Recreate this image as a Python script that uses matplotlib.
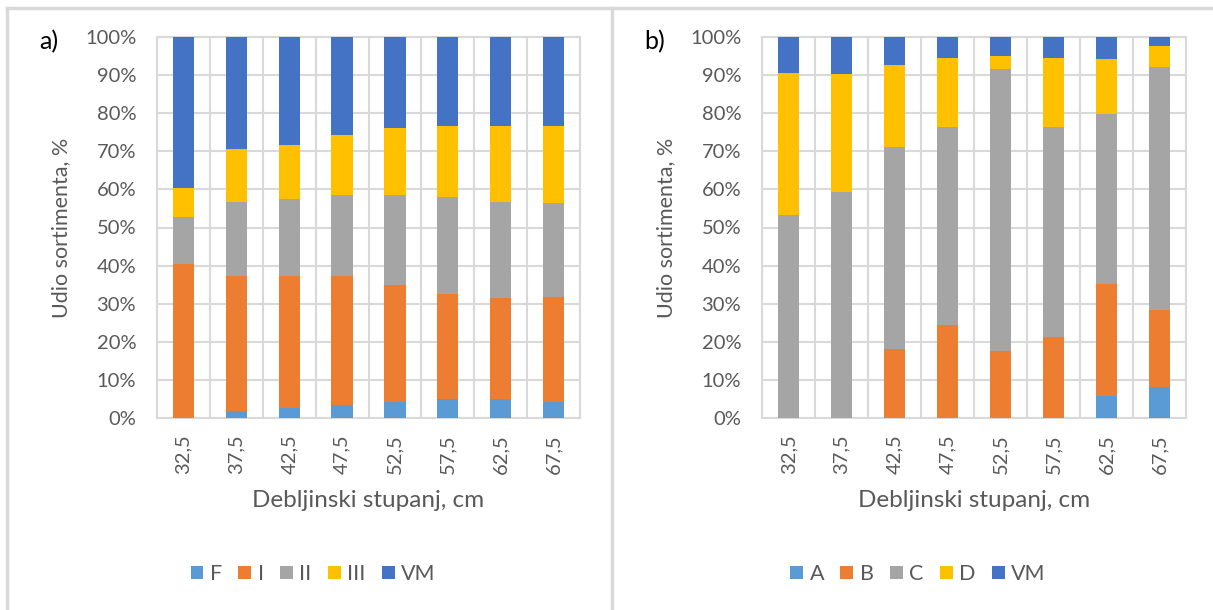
import numpy as np
import matplotlib
matplotlib.use("Agg")
import matplotlib.pyplot as plt
from matplotlib.ticker import PercentFormatter, FixedLocator
from matplotlib.lines import Line2D

plt.rcParams['font.family'] = ['Lato', 'DejaVu Sans']

# diameter classes
classes = ["32,5", "37,5", "42,5", "47,5", "52,5", "57,5", "62,5", "67,5"]

# a) assortment shares, %
a_labels = ["F", "I", "II", "III", "VM"]
a_F = [0.0, 1.9, 2.6, 3.3, 4.3, 5.0, 5.0, 4.3]
a_I = [40.5, 35.5, 34.8, 33.9, 30.5, 27.5, 26.5, 27.5]
a_II = [12.3, 19.2, 20.2, 21.4, 23.6, 25.4, 25.1, 24.5]
a_III = [7.5, 14.1, 14.1, 15.8, 17.7, 18.8, 20.1, 20.4]
a_VM = [39.7, 29.3, 28.3, 25.6, 23.9, 23.3, 23.3, 23.3]

# b) assortment shares, %
b_labels = ["A", "B", "C", "D", "VM"]
b_A = [0.0, 0.0, 0.0, 0.0, 0.0, 0.0, 5.9, 8.1]
b_B = [0.0, 0.0, 18.2, 24.3, 17.6, 21.3, 29.4, 20.2]
b_C = [53.4, 59.4, 52.9, 52.2, 74.0, 55.2, 44.5, 63.9]
b_D = [37.2, 30.8, 21.5, 18.1, 3.3, 18.1, 14.4, 5.4]
b_VM = [9.4, 9.8, 7.4, 5.4, 5.1, 5.4, 5.8, 2.4]

colors = ["#5B9BD5", "#ED7D31", "#A5A5A5", "#FFC000", "#4472C4"]
grid_c = "#D9D9D9"
text_c = "#595959"

fig = plt.figure(figsize=(12.13, 6.10), dpi=100)

# panel frames
fig.add_artist(Line2D([7/1213, 1], [1-8/610, 1-8/610], color=grid_c, lw=2.5))
fig.add_artist(Line2D([7/1213, 7/1213], [0, 1-8/610], color=grid_c, lw=2.5))
fig.add_artist(Line2D([612/1213, 612/1213], [0, 1-8/610], color=grid_c, lw=2.5))


def draw_panel(ax, series, labels, tag, tag_x, legend_x):
    x = np.arange(len(classes))
    bottom = np.zeros(len(classes))
    handles = []
    for vals, lab, col in zip(series, labels, colors):
        vals = np.array(vals) / 100.0
        h = ax.bar(x, vals, width=0.4, bottom=bottom, color=col, label=lab, zorder=3)
        handles.append(h)
        bottom += vals
    ax.set_xlim(-0.5, len(classes) - 0.5)
    ax.set_ylim(0, 1)
    ax.yaxis.set_major_locator(FixedLocator(np.linspace(0, 1, 11)))
    ax.yaxis.set_major_formatter(PercentFormatter(1.0, decimals=0))
    ax.set_xticks(x)
    ax.set_xticklabels(classes, rotation=90)
    ax.set_xticks(np.arange(-0.5, len(classes), 1.0), minor=True)
    ax.tick_params(axis='both', which='both', length=0, colors=text_c, labelsize=14.5)
    ax.tick_params(axis='x', pad=12)
    ax.tick_params(axis='y', pad=15)
    ax.grid(axis='y', which='major', color=grid_c, lw=1.5, zorder=0)
    ax.grid(axis='x', which='minor', color=grid_c, lw=1.5, zorder=0)
    for sp in ax.spines.values():
        sp.set_color(grid_c)
        sp.set_linewidth(1.5)
    ax.set_ylabel("Udio sortimenta, %", color=text_c, fontsize=15.5, labelpad=10)
    ax.set_xlabel("Debljinski stupanj, cm", color=text_c, fontsize=17.5, labelpad=11)
    fig.text(tag_x, 1 - 42/610, tag, fontsize=18, color="black", ha='left', va='center')
    leg = fig.legend(handles=handles, loc='center', bbox_to_anchor=(legend_x, 1 - 574/610),
                     ncol=5, frameon=False, fontsize=15.5, handlelength=0.6, handleheight=0.6,
                     handletextpad=0.3, columnspacing=0.75)
    for t in leg.get_texts():
        t.set_color(text_c)


ax1 = fig.add_axes([157/1213, 192/610, 423/1213, 381/610])
draw_panel(ax1, [a_F, a_I, a_II, a_III, a_VM], a_labels, "a)", 39/1213, 313/1213)

ax2 = fig.add_axes([762/1213, 192/610, 424/1213, 381/610])
draw_panel(ax2, [b_A, b_B, b_C, b_D, b_VM], b_labels, "b)", 644/1213, 918/1213)

fig.savefig("out.png", dpi=100)
